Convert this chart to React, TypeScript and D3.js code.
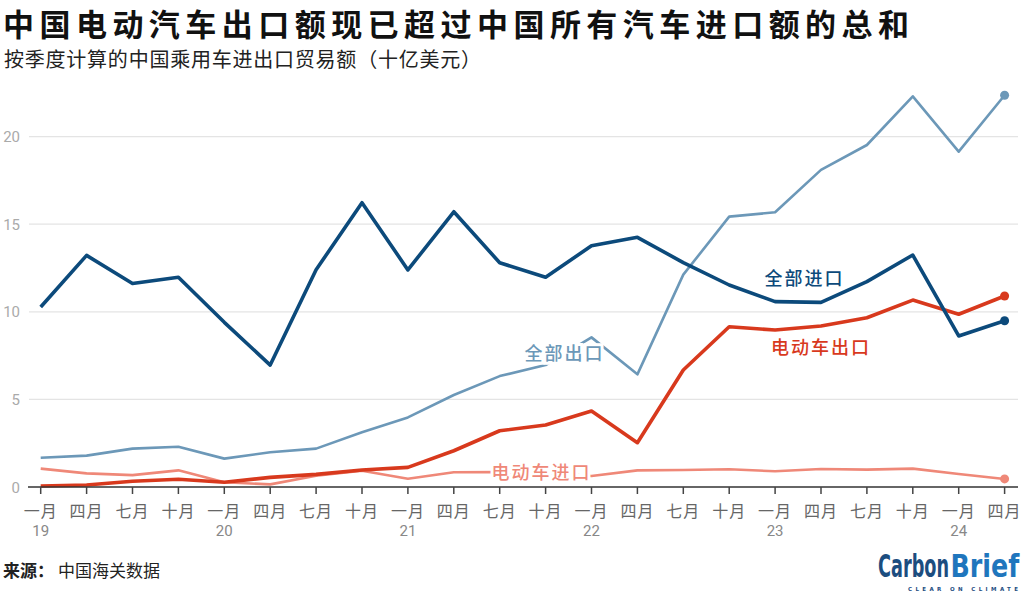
import React, { useEffect, useRef } from 'react'
import * as d3 from 'd3'

// quarterly values, 2019 Q1 – 2024 Q2 (billion USD)
const quarters = [
    '一月', '四月', '七月', '十月', '一月', '四月', '七月', '十月', '一月', '四月', '七月', '十月',
    '一月', '四月', '七月', '十月', '一月', '四月', '七月', '十月', '一月', '四月',
]
const years = ['19', '20', '21', '22', '23', '24']
const allImports = [10.27, 13.22, 11.62, 11.97, 9.4, 6.96, 12.4, 16.23, 12.39, 15.71, 12.8, 11.97, 13.77, 14.25, 12.81, 11.53, 10.58, 10.54, 11.72, 13.24, 8.62, 9.49]
const allExports = [1.67, 1.79, 2.19, 2.3, 1.62, 1.98, 2.19, 3.12, 3.97, 5.25, 6.33, 6.96, 8.54, 6.43, 12.12, 15.43, 15.68, 18.1, 19.52, 22.3, 19.14, 22.36]
const evExports = [0.06, 0.11, 0.33, 0.44, 0.27, 0.55, 0.72, 0.97, 1.12, 2.07, 3.21, 3.54, 4.34, 2.53, 6.68, 9.15, 8.96, 9.19, 9.66, 10.67, 9.86, 10.9]
const evImports = [1.05, 0.78, 0.68, 0.95, 0.27, 0.15, 0.64, 0.93, 0.47, 0.84, 0.85, 0.8, 0.63, 0.95, 0.97, 1.01, 0.9, 1.03, 0.99, 1.05, 0.74, 0.46]
const yTicks = [0, 5, 10, 15, 20]

const CJK = "'Noto Sans CJK SC', sans-serif"
const NUM = "Roboto, 'Noto Sans CJK SC', sans-serif"

export default function App() {
    const svgRef = useRef<SVGSVGElement>(null)
    const width = 1024
    const height = 596

    useEffect(() => {
        if (!svgRef.current) return
        const svg = d3.select(svgRef.current)
        svg.selectAll('*').remove()

        const x = d3.scaleLinear().domain([0, quarters.length - 1]).range([40.7, 1004.6])
        const y = d3.scaleLinear().domain([0, 20]).range([487, 136.6])

        // title + subtitle
        svg.append('text')
            .attr('x', 3).attr('y', 36)
            .attr('font-family', CJK).attr('font-weight', 700).attr('font-size', 31)
            .attr('textLength', 906).attr('lengthAdjust', 'spacing').attr('fill', '#111')
            .text('中国电动汽车出口额现已超过中国所有汽车进口额的总和')
        svg.append('text')
            .attr('x', 4).attr('y', 67)
            .attr('font-family', CJK).attr('font-size', 20)
            .attr('textLength', 477).attr('lengthAdjust', 'spacing').attr('fill', '#222')
            .text('按季度计算的中国乘用车进出口贸易额（十亿美元）')

        // grid
        svg.append('g').selectAll('line')
            .data(yTicks.filter(d => d > 0))
            .enter().append('line')
            .attr('x1', 29).attr('x2', 1018)
            .attr('y1', d => y(d)).attr('y2', d => y(d))
            .attr('stroke', '#e4e4e4').attr('stroke-width', 1.2)

        svg.append('g').selectAll('text')
            .data(yTicks)
            .enter().append('text')
            .attr('x', 20).attr('y', d => y(d) + 5.5)
            .attr('text-anchor', 'end')
            .attr('font-family', NUM).attr('font-size', 15).attr('fill', '#aaa')
            .text(d => d)

        const lineGen = d3.line<number>().x((_, i) => x(i)).y(d => y(d))

        const series = [
            { data: evImports, color: '#ef8878', w: 2.6 },
            { data: allExports, color: '#6c98b8', w: 2.6 },
            { data: evExports, color: '#d8391d', w: 3.6 },
            { data: allImports, color: '#0c4a7b', w: 3.6 },
        ]

        // labels sit between lines; halo hides lines behind them
        const label = (t: string, cx: number, by: number, color: string, halo: boolean) => {
            const el = svg.append('text')
                .attr('x', cx).attr('y', by)
                .attr('text-anchor', 'middle')
                .attr('font-family', CJK).attr('font-size', 18).attr('font-weight', 500)
                .attr('letter-spacing', 2).attr('fill', color)
                .text(t)
            if (halo) el.attr('stroke', '#fff').attr('stroke-width', 6).attr('paint-order', 'stroke')
        }

        series.slice(0, 2).forEach(s => {
            svg.append('path').datum(s.data)
                .attr('d', lineGen).attr('fill', 'none')
                .attr('stroke', s.color).attr('stroke-width', s.w)
                .attr('stroke-linejoin', 'round')
        })
        label('电动车进口', 541.5, 479, '#ef8878', true)
        label('全部出口', 564.5, 360, '#6c98b8', true)

        series.slice(2).forEach(s => {
            svg.append('path').datum(s.data)
                .attr('d', lineGen).attr('fill', 'none')
                .attr('stroke', s.color).attr('stroke-width', s.w)
                .attr('stroke-linejoin', 'round')
        })
        label('全部进口', 804.5, 285, '#0c4a7b', false)
        label('电动车出口', 821, 354, '#d8391d', false)

        // end dots
        svg.append('g').selectAll('circle')
            .data(series)
            .enter().append('circle')
            .attr('cx', x(quarters.length - 1))
            .attr('cy', d => y(d.data[d.data.length - 1]))
            .attr('r', 4.5)
            .attr('fill', d => d.color)

        // x axis
        svg.append('line')
            .attr('x1', 28).attr('x2', 1018).attr('y1', y(0)).attr('y2', y(0))
            .attr('stroke', '#333').attr('stroke-width', 1.5)
        const xg = svg.append('g')
        xg.selectAll('line')
            .data(quarters)
            .enter().append('line')
            .attr('x1', (_, i) => x(i)).attr('x2', (_, i) => x(i))
            .attr('y1', y(0)).attr('y2', y(0) + 7)
            .attr('stroke', '#444').attr('stroke-width', 1.5)
        xg.selectAll('text.q')
            .data(quarters)
            .enter().append('text')
            .attr('class', 'q')
            .attr('x', (_, i) => x(i)).attr('y', 517)
            .attr('text-anchor', 'middle')
            .attr('font-family', CJK).attr('font-size', 16).attr('letter-spacing', 1)
            .attr('fill', '#666')
            .text(d => d)
        xg.selectAll('text.yr')
            .data(years)
            .enter().append('text')
            .attr('class', 'yr')
            .attr('x', (_, i) => x(i * 4)).attr('y', 535.5)
            .attr('text-anchor', 'middle')
            .attr('font-family', NUM).attr('font-size', 15).attr('fill', '#888')
            .text(d => d)

        // source
        const src = svg.append('text')
            .attr('x', 3).attr('y', 577)
            .attr('font-family', CJK).attr('font-size', 17).attr('fill', '#222')
        src.append('tspan').attr('font-weight', 700).text('来源：')
        src.append('tspan').attr('dx', 4).text('中国海关数据')

        // logo: condensed by scaling a bold sans horizontally
        const logoFont = "'DejaVu Sans', sans-serif"
        svg.append('text')
            .attr('transform', 'translate(878,577) scale(0.555,1)')
            .attr('font-family', logoFont).attr('font-weight', 700).attr('font-size', 32)
            .attr('textLength', 128).attr('lengthAdjust', 'spacingAndGlyphs')
            .attr('fill', '#1c4d7f')
            .text('Carbon')
        svg.append('text')
            .attr('transform', 'translate(950.5,577) scale(0.796,1)')
            .attr('font-family', logoFont).attr('font-weight', 700).attr('font-size', 32)
            .attr('textLength', 86.5).attr('lengthAdjust', 'spacingAndGlyphs')
            .attr('fill', '#1f76bd')
            .text('Brief')
        svg.append('text')
            .attr('x', 908).attr('y', 591)
            .attr('font-family', logoFont).attr('font-size', 5.5).attr('font-weight', 700)
            .attr('textLength', 110).attr('lengthAdjust', 'spacing')
            .attr('fill', '#1c4d7f')
            .text('CLEAR ON CLIMATE')
    }, [])

    return (
        <svg ref={svgRef} width={width} height={height} viewBox={`0 0 ${width} ${height}`}
            style={{ position: 'absolute', left: 0, top: 0, background: '#fff' }} />
    )
}
